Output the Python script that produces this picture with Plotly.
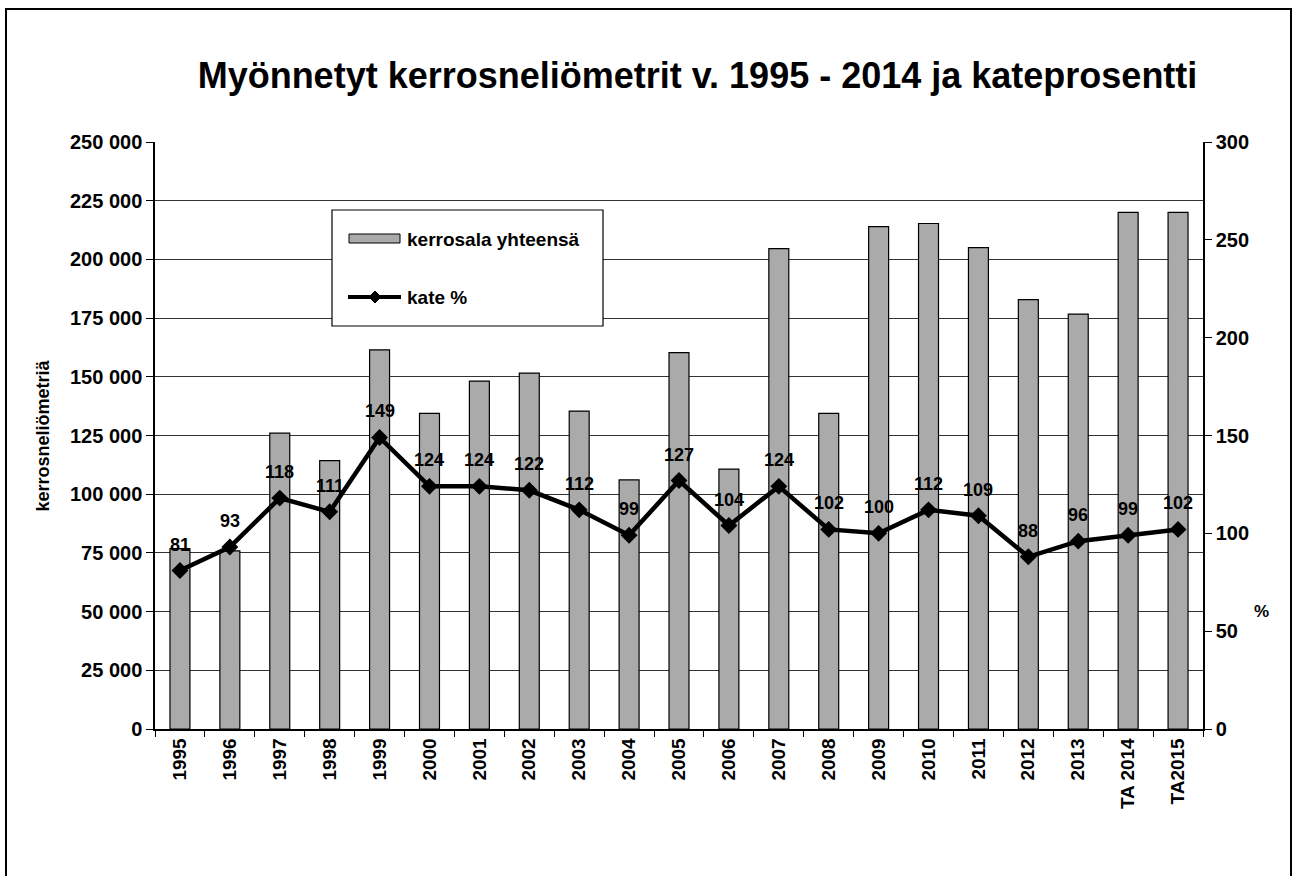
import plotly.graph_objects as go

# Categories (years) and series values
years = ["1995", "1996", "1997", "1998", "1999", "2000", "2001", "2002", "2003",
         "2004", "2005", "2006", "2007", "2008", "2009", "2010", "2011", "2012",
         "2013", "TA 2014", "TA2015"]
kerrosala = [76800, 75900, 126000, 114300, 161500, 134400, 148200, 151600, 135400,
             106100, 160300, 110700, 204600, 134400, 214000, 215300, 205000, 182900,
             176700, 220000, 220000]
kate = [81, 93, 118, 111, 149, 124, 124, 122, 112, 99, 127, 104, 124, 102, 100,
        112, 109, 88, 96, 99, 102]

FONT = "Liberation Sans, Arial, sans-serif"
BOLD = dict(family=FONT, color="#000000", weight="bold")

# Plot-area geometry in pixels (used to place decorations in paper coordinates)
W, H = 1293, 876
L, R, T, B = 155, 90, 142, 147
PW, PH = W - L - R, H - T - B


def px(xp):
    return (xp - L) / PW


def py(yp):
    return (H - B - yp) / PH


fig = go.Figure()

fig.add_trace(go.Bar(
    x=years, y=kerrosala, name="kerrosala yhteensä",
    marker=dict(color="#AAAAAA", line=dict(color="#000000", width=1.2)),
    showlegend=False,
))

fig.add_trace(go.Scatter(
    x=years, y=kate, name="kate %", yaxis="y2", mode="lines+markers",
    line=dict(color="#000000", width=4.5),
    marker=dict(symbol="diamond", size=13, color="#000000"),
    showlegend=False,
))

# Value labels above each point of the kate % line (category index positions)
annotations = []
for i, v in enumerate(kate):
    annotations.append(dict(
        x=i, y=v, xref="x", yref="y2", text=str(v), showarrow=False,
        yshift=26, font=dict(BOLD, size=18),
    ))

# Axis titles
annotations.append(dict(
    x=px(42), y=0.5, xref="paper", yref="paper", text="kerrosneliömetriä",
    textangle=-90, showarrow=False, xanchor="center", yanchor="middle",
    font=dict(BOLD, size=18),
))
annotations.append(dict(
    x=px(1261), y=py(611), xref="paper", yref="paper", text="%",
    showarrow=False, xanchor="center", yanchor="middle",
    font=dict(BOLD, size=17),
))

# Legend box drawn as shapes + text
annotations.append(dict(
    x=px(405), y=py(239), xref="paper", yref="paper", text="kerrosala yhteensä",
    showarrow=False, xanchor="left", yanchor="middle", font=dict(BOLD, size=19),
))
annotations.append(dict(
    x=px(405), y=py(297), xref="paper", yref="paper", text="kate %",
    showarrow=False, xanchor="left", yanchor="middle", font=dict(BOLD, size=19),
))

dx, dy = 6, 6
diamond = (f"M {px(375 - dx)},{py(297)} L {px(375)},{py(297 - dy)} "
           f"L {px(375 + dx)},{py(297)} L {px(375)},{py(297 + dy)} Z")

shapes = [
    # outer chart frame
    dict(type="rect", xref="paper", yref="paper",
         x0=px(6), x1=px(1291), y0=py(890), y1=py(9),
         line=dict(color="#000000", width=2), fillcolor="rgba(0,0,0,0)",
         layer="below"),
    # legend frame
    dict(type="rect", xref="paper", yref="paper",
         x0=px(332), x1=px(603), y0=py(326), y1=py(210),
         line=dict(color="#000000", width=1.2), fillcolor="#FFFFFF",
         layer="above"),
    # bar swatch
    dict(type="rect", xref="paper", yref="paper",
         x0=px(349), x1=px(400), y0=py(243), y1=py(234),
         line=dict(color="#000000", width=1), fillcolor="#AAAAAA",
         layer="above"),
    # line swatch
    dict(type="line", xref="paper", yref="paper",
         x0=px(348), x1=px(401), y0=py(297), y1=py(297),
         line=dict(color="#000000", width=4), layer="above"),
    dict(type="path", xref="paper", yref="paper", path=diamond,
         line=dict(color="#000000", width=1), fillcolor="#000000",
         layer="above"),
]

fig.update_layout(
    width=W, height=H,
    margin=dict(l=L, r=R, t=T, b=B),
    paper_bgcolor="#FFFFFF", plot_bgcolor="#FFFFFF",
    separators=", ",
    font=dict(family=FONT, color="#000000"),
    title=dict(
        text="Myönnetyt kerrosneliömetrit v. 1995 - 2014 ja kateprosentti",
        x=px(697.5), xref="paper", xanchor="center",
        y=1 - 75 / H, yref="container", yanchor="middle",
        font=dict(BOLD, size=36),
    ),
    bargap=0.6,
    showlegend=False,
    xaxis=dict(
        type="category", range=[-0.5, len(years) - 0.5],
        tickangle=-90, tickson="boundaries",
        ticks="outside", ticklen=6, tickcolor="#000", tickwidth=1,
        showline=True, linecolor="#000000", linewidth=1.5,
        tickfont=dict(BOLD, size=19),
        showgrid=False,
    ),
    yaxis=dict(
        range=[0, 250000], dtick=25000, tickformat=",d",
        ticks="outside", ticklen=7, tickcolor="#000", tickwidth=1,
        showline=True, linecolor="#000000", linewidth=1.5,
        showgrid=True, gridcolor="#333333", gridwidth=1,
        tickfont=dict(BOLD, size=20),
        zeroline=False,
    ),
    yaxis2=dict(
        range=[0, 300], dtick=50, overlaying="y", side="right",
        ticks="outside", ticklen=7, tickcolor="#000", tickwidth=1,
        showline=True, linecolor="#000000", linewidth=1.5,
        showgrid=False, zeroline=False,
        tickfont=dict(BOLD, size=20),
    ),
    annotations=annotations,
    shapes=shapes,
)

fig.write_html("out.html")
